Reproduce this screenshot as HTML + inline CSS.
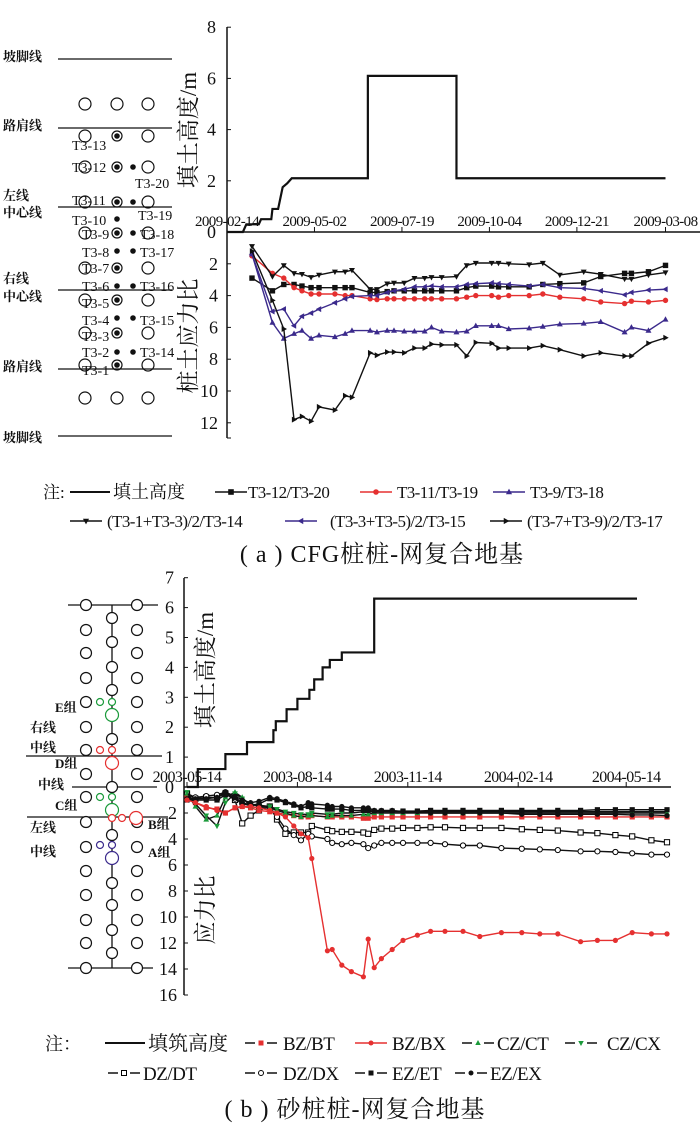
<!DOCTYPE html>
<html><head><meta charset="utf-8">
<style>
html,body{margin:0;padding:0;background:#fff;}
#wrap{position:relative;width:700px;height:1130px;overflow:hidden;}
svg{position:absolute;left:0;top:0;}
text{font-family:"Liberation Serif","Noto Serif CJK SC",serif;fill:#111;}
.cj{font-family:"Liberation Serif","Noto Serif CJK SC","Noto Sans CJK SC",serif;}
</style></head>
<body>
<div id="wrap">
<svg id="svg" width="700" height="1130" viewBox="0 0 700 1130"></svg>
</div>
<script>
// ---------- Chart (a) data ----------
const aFillDays=[0,14,17,28,30,39,40,45,49,53,57,124,124,202,202,386];
const aFillH=[0,0,0.3,0.3,0.5,0.5,0.9,0.9,1.75,1.9,2.1,2.1,6.1,6.1,2.1,2.1];
const aDays=[22,40,50,59,66,74,81,95,104,110,126,132,141,147,156,165,174,180,189,202,211,219,233,239,248,266,278,293,314,329,350,356,371,386];
const aS1=[2.9,3.7,3.3,3.3,3.4,3.5,3.5,3.5,3.5,3.5,3.8,3.8,3.75,3.7,3.7,3.7,3.7,3.7,3.7,3.7,3.5,3.4,3.4,3.45,3.45,3.45,3.3,3.25,3.2,2.8,2.6,2.6,2.5,2.1];
const aS2=[1.5,2.6,2.9,3.5,3.7,3.9,3.9,3.9,4.0,4.0,4.2,4.25,4.2,4.2,4.2,4.2,4.2,4.2,4.2,4.2,4.1,4.0,4.0,4.1,4.0,4.0,3.9,4.1,4.2,4.4,4.5,4.35,4.4,4.3];
const aS3=[1.4,5.7,6.7,6.4,6.2,6.7,6.5,6.6,6.4,6.2,6.2,6.3,6.2,6.2,6.25,6.25,6.25,6.0,6.25,6.3,6.25,5.9,5.9,5.9,6.1,6.05,5.95,5.8,5.75,5.65,6.3,6.0,6.2,5.5];
const aS4=[0.9,2.8,2.1,2.6,2.65,2.85,2.7,2.5,2.5,2.4,3.6,3.6,3.25,3.2,3.2,2.9,2.9,2.85,2.85,2.8,2.1,1.95,1.95,1.95,2.0,2.05,1.95,2.7,2.5,2.65,2.95,2.95,2.7,2.55];
const aS5=[1.4,5.0,4.85,5.9,5.3,5.1,4.85,4.45,4.2,4.05,4.0,4.0,3.8,3.7,3.6,3.45,3.45,3.4,3.45,3.45,3.3,3.25,3.2,3.25,3.3,3.4,3.3,3.5,3.55,3.7,3.95,3.8,3.65,3.6];
const aS6=[1.2,4.3,6.1,11.8,11.6,11.9,11.0,11.2,10.3,10.4,7.6,7.75,7.55,7.55,7.6,7.3,7.3,7.05,7.1,7.1,7.8,6.95,7.0,7.3,7.3,7.3,7.15,7.4,7.8,7.6,7.8,7.8,7.0,6.65];
const aDateLabels=["2009-02-14","2009-05-02","2009-07-19","2009-10-04","2009-12-21","2009-03-08"];
const aDateDays=[0,77,154,231,308,386];
const aTopTicks=[0,2,4,6,8];
const aBotTicks=[2,4,6,8,10,12];

// ---------- Chart (b) data ----------
const bFillDays=[0,9,32,50,72,74,83,92,102,106,113,119,129,156,375];
const bFillH=[0,0.6,1.1,1.5,1.9,2.2,2.6,2.95,3.25,3.6,4.0,4.25,4.5,6.3,6.3];
const bDays=[0,7,16,25,32,40,46,53,60,69,75,82,89,95,101,104,117,121,129,137,147,151,156,162,171,180,192,203,215,230,244,262,279,294,309,328,342,357,371,387,400];
const bBX=[1.0,1.2,1.5,1.8,2.0,1.6,1.5,1.5,1.6,1.8,2.0,2.3,3.0,3.6,3.9,5.5,12.6,12.5,13.7,14.2,14.6,11.7,13.9,13.2,12.5,11.8,11.4,11.1,11.1,11.1,11.5,11.2,11.2,11.3,11.3,11.9,11.8,11.8,11.2,11.3,11.3];
const bBT=[0.8,1.2,1.6,1.7,2.0,1.6,1.5,1.6,1.8,1.9,2.0,2.1,2.2,2.3,2.3,2.2,2.3,2.3,2.3,2.3,2.4,2.4,2.3,2.3,2.3,2.3,2.3,2.3,2.3,2.3,2.3,2.3,2.3,2.3,2.3,2.3,2.3,2.3,2.3,2.3,2.3];
const bCT=[0.5,1.5,2.5,2.2,0.8,0.4,0.8,1.5,1.6,1.6,1.8,2.0,2.2,2.3,2.2,2.2,2.3,2.2,2.2,2.2,2.1,2.1,2.0,2.0,2.0,2.0,2.0,2.0,2.0,2.0,2.0,2.0,2.0,2.0,2.0,2.0,2.0,2.0,2.0,2.0,2.0];
const bCX=[0.4,1.3,2.2,3.0,1.2,0.5,0.9,1.3,1.5,1.5,1.7,1.9,2.0,2.1,2.1,2.0,2.1,2.1,2.0,2.0,1.9,1.9,1.9,1.9,1.9,1.9,1.9,1.9,1.9,1.9,1.9,1.9,1.9,1.9,1.9,1.9,1.9,1.9,1.9,1.9,1.9];
const bDT=[0.5,0.9,0.8,0.8,0.5,1.0,2.8,2.2,1.8,1.5,2.5,3.6,3.5,3.5,3.5,3.0,3.3,3.4,3.45,3.45,3.5,3.6,3.3,3.2,3.2,3.15,3.15,3.1,3.1,3.15,3.15,3.15,3.25,3.3,3.35,3.5,3.55,3.7,3.8,4.1,4.25];
const bDX=[0.5,0.8,0.7,0.6,0.4,0.9,1.3,1.4,1.4,1.5,2.3,3.2,3.7,4.1,3.6,3.8,4.0,4.3,4.4,4.3,4.4,4.7,4.5,4.3,4.3,4.3,4.3,4.3,4.4,4.5,4.5,4.7,4.75,4.8,4.85,4.95,4.95,5.0,5.1,5.2,5.2];
const bET=[1.0,1.0,1.0,1.0,0.6,0.8,1.2,1.4,1.3,0.9,1.0,1.2,1.4,1.6,1.5,1.6,1.7,1.7,1.7,1.8,1.8,1.8,1.85,1.85,1.85,1.85,1.85,1.8,1.8,1.8,1.8,1.8,1.8,1.8,1.8,1.8,1.75,1.75,1.75,1.75,1.75];
const bEX=[0.9,0.9,0.9,0.8,0.4,0.7,1.0,1.2,1.1,0.8,0.9,1.1,1.3,1.5,1.2,1.3,1.4,1.5,1.5,1.6,1.6,1.6,1.8,1.8,1.8,1.9,1.9,2.0,2.0,2.0,2.0,2.0,2.1,2.1,2.1,2.1,2.1,2.1,2.15,2.15,2.2];
const bDateLabels=["2003-05-14","2003-08-14","2003-11-14","2004-02-14","2004-05-14"];
const bDateDays=[0,92,184,276,366];
const bTopTicks=[0,1,2,3,4,5,6,7];
const bBotTicks=[2,4,6,8,10,12,14,16];

const NS="http://www.w3.org/2000/svg";
const svg=document.getElementById('svg');
function el(tag,attrs,parent){const e=document.createElementNS(NS,tag);for(const k in attrs)e.setAttribute(k,attrs[k]);(parent||svg).appendChild(e);return e;}
function txt(s,x,y,size,anchor,parent,extra){const t=el('text',Object.assign({x:x,y:y,'font-size':size,'text-anchor':anchor||'start'},extra||{}),parent);t.textContent=s;return t;}
function marker(g,type,x,y,col,s){
  let m;
  if(type==='sq') m=el('rect',{x:x-s,y:y-s,width:2*s,height:2*s,fill:col},g);
  else if(type==='osq') m=el('rect',{x:x-s,y:y-s,width:2*s,height:2*s,fill:'#fff',stroke:'#000','stroke-width':1},g);
  else if(type==='ci') m=el('circle',{cx:x,cy:y,r:s,fill:col},g);
  else if(type==='oci') m=el('circle',{cx:x,cy:y,r:s,fill:'#fff',stroke:'#000','stroke-width':1},g);
  else if(type==='up') m=el('polygon',{points:`${x},${y-s*1.2} ${x-s*1.1},${y+s*0.8} ${x+s*1.1},${y+s*0.8}`,fill:col},g);
  else if(type==='dn') m=el('polygon',{points:`${x},${y+s*1.2} ${x-s*1.1},${y-s*0.8} ${x+s*1.1},${y-s*0.8}`,fill:col},g);
  else if(type==='lt') m=el('polygon',{points:`${x-s*1.2},${y} ${x+s*0.8},${y-s*1.1} ${x+s*0.8},${y+s*1.1}`,fill:col},g);
  else if(type==='rt') m=el('polygon',{points:`${x+s*1.2},${y} ${x-s*0.8},${y-s*1.1} ${x-s*0.8},${y+s*1.1}`,fill:col},g);
  return m;
}

// ================= Chart (a) =================
const aX=d=>227+d*1.136, aYt=h=>232-h*25.6, aYb=v=>232+v*15.9;
const ga=el('g',{});


el('line',{x1:227,y1:27,x2:227,y2:438,stroke:'#111','stroke-width':1.5},ga);
el('line',{x1:227,y1:232,x2:700,y2:232,stroke:'#111','stroke-width':1.5},ga);
aTopTicks.forEach(v=>{const y=aYt(v);el('line',{x1:227,y1:y,x2:231,y2:y,stroke:'#111'},ga);const t=txt(String(v),216,y+6,18,'end',ga);});
aBotTicks.forEach(v=>{const y=aYb(v);el('line',{x1:227,y1:y,x2:231,y2:y,stroke:'#111'},ga);const t=txt(String(v),218,y+6,18,'end',ga);});
el('line',{x1:227,y1:438,x2:231,y2:438,stroke:'#111'},ga);
aDateDays.forEach((d,i)=>{const x=aX(d);el('line',{x1:x,y1:232,x2:x,y2:227,stroke:'#111'},ga);const t=txt(aDateLabels[i],x,226,15,'middle',ga,{'letter-spacing':'-0.6'});});
{const t=txt('填土高度/m',0,0,23,'middle',ga,{transform:'translate(196,130) rotate(-90)',class:'cj'});}
{const t=txt('桩土应力比',0,0,23,'middle',ga,{transform:'translate(196,336) rotate(-90)',class:'cj'});}
{const p=el('polyline',{points:aFillDays.map((d,i)=>aX(d)+','+aYt(aFillH[i])).join(' '),fill:'none',stroke:'#111','stroke-width':2.2},ga);}
const aSeries=[[aS1,'#111','sq','T3-12/T3-20'],[aS2,'#e53030','ci','T3-11/T3-19'],[aS3,'#3b2a8c','up','T3-9/T3-18'],[aS4,'#111','dn','(T3-1+T3-3)/2/T3-14'],[aS5,'#3b2a8c','lt','(T3-3+T3-5)/2/T3-15'],[aS6,'#111','rt','(T3-7+T3-9)/2/T3-17']];
aSeries.forEach(([vals,col,mk,name],si)=>{
  const g=el('g',{},ga);
  
  
  el('polyline',{points:aDays.map((d,i)=>aX(d)+','+aYb(vals[i])).join(' '),fill:'none',stroke:col,'stroke-width':1.4},g);
  aDays.forEach((d,i)=>marker(g,mk,aX(d),aYb(vals[i]),col,2.7));
});

// left diagram (a)
const la=el('g',{});


[[59,'坡脚线',[56]],[128,'路肩线',[125]],[207,'左线|中心线',[195,212]],[290,'右线|中心线',[278,296]],[369,'路肩线',[366]],[436,'坡脚线',[437]]].forEach(([y,lab,ys])=>{
  el('line',{x1:58,y1:y,x2:172,y2:y,stroke:'#111','stroke-width':1.3},la);
  lab.split('|').forEach((s,i)=>{const t=txt(s,3,ys[i]+5,13,'start',la,{class:'cj','font-weight':'bold'});});
});
const openRows=[104,136,167,202,233,268,300,333,365,398];
openRows.forEach(y=>{
  el('circle',{cx:85,cy:y,r:6,fill:'none',stroke:'#111','stroke-width':1.2},la);
  el('circle',{cx:148,cy:y,r:6,fill:'none',stroke:'#111','stroke-width':1.2},la);
  if(y===104||y===398) el('circle',{cx:117,cy:y,r:6,fill:'none',stroke:'#111','stroke-width':1.2},la);
  else {el('circle',{cx:117,cy:y,r:5,fill:'none',stroke:'#111','stroke-width':1.2},la);el('circle',{cx:117,cy:y,r:2.8,fill:'#111'},la);}
});
[[167,133],[202,133],[219,117],[233,133],[251,117],[251,133],[286,117],[286,133],[318,117],[318,133],[352,117],[352,133]].forEach(([y,x])=>el('circle',{cx:x,cy:y,r:2.8,fill:'#111'},la));
[['T3-13',72,150],['T3-12',72,172],['T3-20',135,188],['T3-11',72,205],['T3-10',72,225],['T3-19',138,220],['T3-9',82,239],['T3-18',140,239],['T3-8',82,257],['T3-17',140,257],['T3-7',82,273],['T3-6',82,291],['T3-16',140,291],['T3-5',82,308],['T3-4',82,325],['T3-15',140,325],['T3-3',82,341],['T3-2',82,357],['T3-14',140,357],['T3-1',82,375]].forEach(([s,x,y])=>{const t=txt(s,x,y,14,'start',la);});

// legend (a)
const lga=el('g',{});


txt('注:',43,498,17,'start',lga,{class:'cj'});
el('line',{x1:70,y1:492,x2:110,y2:492,stroke:'#111','stroke-width':2},lga);
txt('填土高度',113,498,18,'start',lga,{class:'cj'});
[[215,492,'sq','#111','T3-12/T3-20',248],[360,492,'ci','#e53030','T3-11/T3-19',397],[493,492,'up','#3b2a8c','T3-9/T3-18',530],[70,521,'dn','#111','(T3-1+T3-3)/2/T3-14',107],[285,521,'lt','#3b2a8c','(T3-3+T3-5)/2/T3-15',330],[490,521,'rt','#111','(T3-7+T3-9)/2/T3-17',527]].forEach(([x,y,mk,col,lab,tx])=>{
  const g=el('g',{},lga);
  
  
  el('line',{x1:x,y1:y,x2:x+32,y2:y,stroke:col,'stroke-width':1.5},g);
  marker(g,mk,x+16,y,col,2.8);
  txt(lab,tx,y+6,17,'start',g,{'letter-spacing':'-0.6'});
});
{const t=txt('( a ) CFG桩桩-网复合地基',382,562,24,'middle',svg,{class:'cj','letter-spacing':'1'});}

// ================= Chart (b) =================
const bX=d=>187+d*1.2, bYt=h=>787-h*29.9, bYb=v=>787+v*13;
const gb=el('g',{});


el('line',{x1:184,y1:578,x2:184,y2:995,stroke:'#111','stroke-width':1.5},gb);
el('line',{x1:184,y1:787,x2:671,y2:787,stroke:'#111','stroke-width':1.5},gb);
bTopTicks.forEach(v=>{const y=bYt(v);el('line',{x1:184,y1:y,x2:188,y2:y,stroke:'#111'},gb);const t=txt(String(v),174,y+6,18,'end',gb);});
bBotTicks.forEach(v=>{const y=bYb(v);el('line',{x1:184,y1:y,x2:188,y2:y,stroke:'#111'},gb);const t=txt(String(v),177,y+6,18,'end',gb);});
bDateDays.forEach((d,i)=>{const x=bX(d);el('line',{x1:x,y1:787,x2:x,y2:782,stroke:'#111'},gb);const t=txt(bDateLabels[i],x,782,16,'middle',gb,{'letter-spacing':'-0.6'});});
{const t=txt('填土高度/m',0,0,23,'middle',gb,{transform:'translate(213,670) rotate(-90)',class:'cj'});}
{const t=txt('应力比',0,0,23,'middle',gb,{transform:'translate(213,910) rotate(-90)',class:'cj'});}
{let pts=[];bFillDays.forEach((d,i)=>{if(i>0)pts.push(bX(d)+','+bYt(bFillH[i-1]));pts.push(bX(d)+','+bYt(bFillH[i]));});
 const p=el('polyline',{points:pts.join(' '),fill:'none',stroke:'#111','stroke-width':2.2},gb);}
const bSeries=[[bDT,'#111','#111','osq'],[bDX,'#111','#111','oci'],[bBT,'#e53030','#e53030','sq'],[bCT,'#111','#1a9a3a','up'],[bCX,'#111','#1a9a3a','dn'],[bET,'#111','#111','sq'],[bEX,'#111','#111','ci'],[bBX,'#e53030','#e53030','ci']];
bSeries.forEach(([vals,lc,mc,mk],si)=>{
  const g=el('g',{},gb);
  
  
  el('polyline',{points:bDays.map((d,i)=>bX(d)+','+bYb(vals[i])).join(' '),fill:'none',stroke:lc,'stroke-width':1.4},g);
  bDays.forEach((d,i)=>marker(g,mk,bX(d),bYb(vals[i]),mc,2.6));
});

// left diagram (b)
const lb=el('g',{});


el('line',{x1:112,y1:605,x2:112,y2:968,stroke:'#111','stroke-width':1.3},lb);
[[605,68,158],[968,68,153],[756,26,162],[787,72,157],[817,27,168]].forEach(([y,a,b])=>el('line',{x1:a,y1:y,x2:b,y2:y,stroke:'#111','stroke-width':1.3},lb));
[605,630,653,678,702,727,750,774,797,822,847,871,895,920,943,968].forEach(y=>{
  el('circle',{cx:86,cy:y,r:5.5,fill:'#fff',stroke:'#111','stroke-width':1.2},lb);
  el('circle',{cx:137,cy:y,r:5.5,fill:'#fff',stroke:'#111','stroke-width':1.2},lb);
});
[[618,'#111',5.5],[642,'#111',5.5],[667,'#111',5.5],[690,'#111',5.5],[702,'#1a9a3a',3.5],[715,'#1a9a3a',6.5],[739,'#111',5.5],[750,'#e53030',3.5],[763,'#e53030',6.5],[787,'#111',5.5],[797,'#1a9a3a',3.5],[810,'#1a9a3a',6.5],[818,'#e53030',3.5],[835,'#111',5.5],[845,'#3b2a8c',3.5],[858,'#3b2a8c',6.5],[883,'#111',5.5],[905,'#111',5.5],[930,'#111',5.5],[953,'#111',5.5]].forEach(([y,c,r])=>el('circle',{cx:112,cy:y,r:r,fill:'#fff',stroke:c,'stroke-width':1.2},lb));
[[100,702,'#1a9a3a',3.5],[100,750,'#e53030',3.5],[100,797,'#1a9a3a',3.5],[122,818,'#e53030',3.5],[136,818,'#e53030',6.5],[100,845,'#3b2a8c',3.5]].forEach(([x,y,c,r])=>el('circle',{cx:x,cy:y,r:r,fill:'#fff',stroke:c,'stroke-width':1.2},lb));
[['E组',55,712],['右线',30,732],['中线',30,752],['D组',55,768],['中线',38,789],['C组',55,810],['左线',30,832],['中线',30,856],['B组',148,829],['A组',148,857]].forEach(([s,x,y])=>{const t=txt(s,x,y,13,'start',lb,{class:'cj','font-weight':'bold'});});

// legend (b)
const lgb=el('g',{});


txt('注：',45,1050,18,'start',lgb,{class:'cj'});
el('line',{x1:105,y1:1043,x2:145,y2:1043,stroke:'#111','stroke-width':2},lgb);
txt('填筑高度',148,1050,20,'start',lgb,{class:'cj'});
[[245,1043,'sq','#111','#e53030','BZ/BT',283],[355,1043,'ci','#e53030','#e53030','BZ/BX',392],[462,1043,'up','#111','#1a9a3a','CZ/CT',497],[565,1043,'dn','#111','#1a9a3a','CZ/CX',607],[108,1073,'osq','#111','#111','DZ/DT',143],[245,1073,'oci','#111','#111','DZ/DX',283],[355,1073,'sq','#111','#111','EZ/ET',392],[455,1073,'ci','#111','#111','EZ/EX',490]].forEach(([x,y,mk,lc,mc,lab,tx])=>{
  const g=el('g',{},lgb);
  
  
  el('line',{x1:x,y1:y,x2:x+10,y2:y,stroke:lc,'stroke-width':1.5},g);
  el('line',{x1:x+22,y1:y,x2:x+32,y2:y,stroke:lc,'stroke-width':1.5},g);
  if(lc!=='#111') el('line',{x1:x+10,y1:y,x2:x+22,y2:y,stroke:lc,'stroke-width':1.5},g);
  marker(g,mk,x+16,y,mc,2.5);
  txt(lab,tx,y+7,19,'start',g,{'letter-spacing':'-0.5'});
});
{const t=txt('( b ) 砂桩桩-网复合地基',355,1117,24,'middle',svg,{class:'cj','letter-spacing':'1'});}
</script>
</body></html>
